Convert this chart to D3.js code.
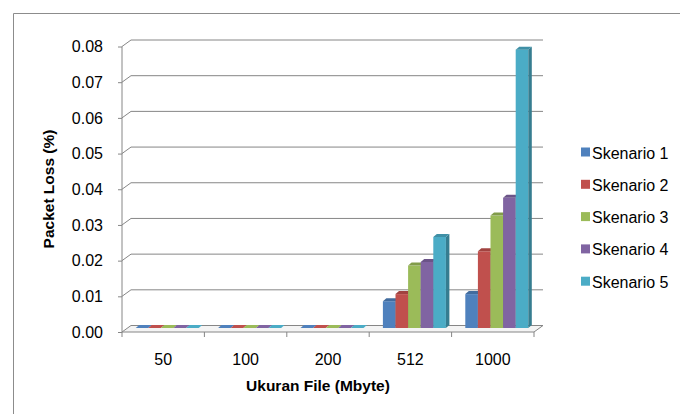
<!DOCTYPE html>
<html>
<head>
<meta charset="utf-8">
<script src="https://cdn.jsdelivr.net/npm/d3@7/dist/d3.min.js"></script>
<style>
  html, body { margin: 0; padding: 0; background: #fff; }
  svg text { font-family: "Liberation Sans", Arial, sans-serif; fill: #000; }
</style>
</head>
<body>
<svg id="chart" width="680" height="414"></svg>
<script>
const categories = ["50", "100", "200", "512", "1000"];
const seriesNames = ["Skenario 1", "Skenario 2", "Skenario 3", "Skenario 4", "Skenario 5"];
const skenario1 = [0, 0, 0, 0.0075, 0.0095];
const skenario2 = [0, 0, 0, 0.0095, 0.0215];
const skenario3 = [0, 0, 0, 0.0175, 0.0315];
const skenario4 = [0, 0, 0, 0.0185, 0.0365];
const skenario5 = [0, 0, 0, 0.0255, 0.078];
const seriesValues = [skenario1, skenario2, skenario3, skenario4, skenario5];
const yTicks = [0, 0.01, 0.02, 0.03, 0.04, 0.05, 0.06, 0.07, 0.08];
const colors = ["#4F81BD", "#C0504D", "#9BBB59", "#8064A2", "#4BACC6"];

const svg = d3.select("#chart");
const gridColor = "#868686";

// outer chart border
svg.append("path").attr("d", "M13.5,420 L13.5,13.5 L690,13.5")
  .attr("fill", "none").attr("stroke", "#8c8c8c").attr("stroke-width", 1);

// scales (front plane)
const x = d3.scaleBand().domain(categories).range([122, 534]).padding(0);
const y = d3.scaleLinear().domain([0, 0.08]).range([332, 46.5]);
const xs = d3.scaleBand().domain(seriesNames).range([9.7, 72.7]).padding(0);

// 3D offsets
const wallDx = 9, wallDy = -6.5;       // back wall offset
const barOx = 4, barOy = -4;           // bar front plane offset
const barDx = 3.5, barDy = -3;         // bar depth

const xMin = x.range()[0], xMax = x.range()[1];

// floor
const floorPts = [[xMin, y(0)], [xMax, y(0)], [xMax + wallDx, y(0) + wallDy], [xMin + wallDx, y(0) + wallDy]];
svg.append("path").attr("d", "M" + floorPts.join("L") + "Z")
  .attr("fill", "#f4f4f4").attr("stroke", gridColor).attr("stroke-width", 1);

// gridlines (side wall slant + back wall)
const grid = svg.append("g");
yTicks.forEach(t => {
  const yf = y(t);
  if (t > 0) {
    grid.append("path")
      .attr("d", `M${xMin},${yf} L${xMin + wallDx},${yf + wallDy} L${xMax + wallDx},${yf + wallDy}`)
      .attr("fill", "none").attr("stroke", gridColor).attr("stroke-width", 1);
  }
});

// front vertical axis
svg.append("line").attr("x1", xMin).attr("x2", xMin).attr("y1", y(0.08)).attr("y2", y(0))
  .attr("stroke", gridColor).attr("stroke-width", 1);

// y axis via d3 axis
const yAxis = d3.axisLeft(y).tickValues(yTicks).tickFormat(d3.format(".2f")).tickSize(4).tickPadding(15);
const yg = svg.append("g").attr("transform", `translate(${xMin},0)`).call(yAxis);
yg.select(".domain").remove();
yg.selectAll(".tick line").attr("stroke", gridColor);
yg.selectAll(".tick text").attr("font-size", "16px").attr("font-family", "Liberation Sans, Arial, sans-serif").attr("fill", "#000");

// x axis via d3 axis (category boundaries as ticks)
const xAxis = d3.axisBottom(x).tickSize(0).tickPadding(22);
const xg = svg.append("g").attr("transform", `translate(0,${y(0)})`).call(xAxis);
xg.select(".domain").remove();
xg.selectAll(".tick text").attr("font-size", "16px").attr("font-family", "Liberation Sans, Arial, sans-serif").attr("fill", "#000");
const boundaries = categories.map(c => x(c)).concat([xMax]);
svg.append("g").selectAll("line").data(boundaries).join("line")
  .attr("x1", d => d).attr("x2", d => d)
  .attr("y1", y(0)).attr("y2", y(0) + 5)
  .attr("stroke", gridColor).attr("stroke-width", 1);

// bars
const barsG = svg.append("g");
categories.forEach((c, ci) => {
  seriesNames.forEach((s, si) => {
    const v = seriesValues[si][ci];
    const col = d3.color(colors[si]);
    const x0 = x(c) + xs(s) + barOx;
    const w = xs.bandwidth();
    const yb = y(0) + barOy;
    const yt = y(v) + barOy;
    const g = barsG.append("g");
    if (v > 0) {
      // front
      g.append("rect").attr("x", x0).attr("y", yt).attr("width", w).attr("height", yb - yt)
        .attr("fill", col.formatHex());
      // side
      g.append("path").attr("d", `M${x0 + w},${yt} L${x0 + w + barDx},${yt + barDy} L${x0 + w + barDx},${yb + barDy} L${x0 + w},${yb} Z`)
        .attr("fill", col.darker(0.9).formatHex());
    }
    // top
    g.append("path").attr("d", `M${x0},${yt} L${x0 + barDx},${yt + barDy} L${x0 + w + barDx},${yt + barDy} L${x0 + w},${yt} Z`)
      .attr("fill", v > 0 ? col.darker(0.5).formatHex() : col.formatHex());
  });
});

// axis titles
svg.append("text").attr("transform", "translate(54,189) rotate(-90)")
  .attr("text-anchor", "middle").attr("font-size", "15.5px").attr("font-weight", "bold")
  .text("Packet Loss (%)");
svg.append("text").attr("x", 318).attr("y", 391)
  .attr("text-anchor", "middle").attr("font-size", "15.5px").attr("font-weight", "bold")
  .text("Ukuran File (Mbyte)");

// legend
const legend = svg.append("g").selectAll("g").data(seriesNames).join("g")
  .attr("transform", (d, i) => `translate(581,${152.5 + i * 32.3})`);
legend.append("rect").attr("x", 0).attr("y", -5).attr("width", 9).attr("height", 9)
  .attr("fill", (d, i) => colors[i]);
legend.append("text").attr("x", 11).attr("y", 6).attr("font-size", "16px").text(d => d);
</script>
</body>
</html>
